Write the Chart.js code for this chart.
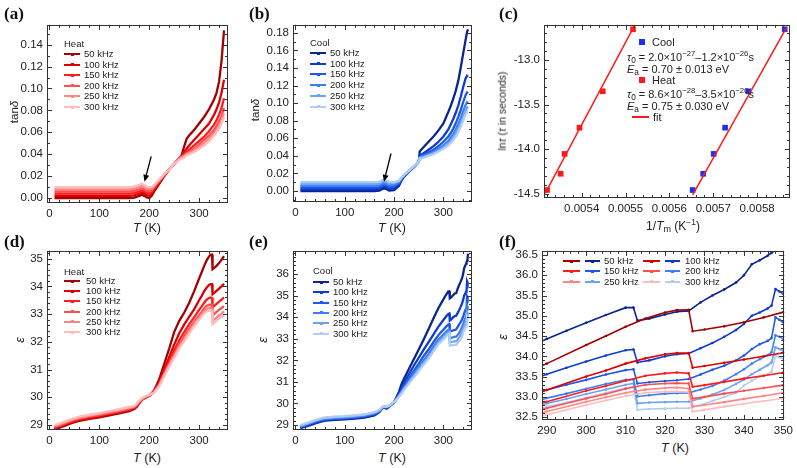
<!DOCTYPE html>
<html>
<head>
<meta charset="utf-8">
<script src="https://cdn.jsdelivr.net/npm/chart.js@4.4.0/dist/chart.umd.min.js"></script>
<style>
body { margin: 0; background: #fff; }
#fig { position: relative; width: 797px; height: 468px; overflow: hidden; font-family: "Liberation Sans", Arial, sans-serif; color: #222; }
#fig canvas { position: absolute; }
.t { position: absolute; white-space: nowrap; line-height: 1; }
.lab { font-family: "Liberation Serif", "DejaVu Serif", serif; font-weight: bold; color: #111; }
sup { font-size: 70%; vertical-align: 0.55em; line-height: 0; }
sub { font-size: 75%; vertical-align: -0.25em; line-height: 0; }
</style>
</head>
<body>
<div id="fig"></div>
<script>
// ---- tick labels ----
const tempTicks = [0, 100, 200, 300];
const tanHeatTicks = [0.00, 0.02, 0.04, 0.06, 0.08, 0.10, 0.12, 0.14];
const tanCoolTicks = [0.00, 0.02, 0.04, 0.06, 0.08, 0.10, 0.12, 0.14, 0.16, 0.18];
const invTTicks = [0.0054, 0.0055, 0.0056, 0.0057, 0.0058];
const lnTauTicks = [-14.5, -14.0, -13.5, -13.0];
const epsHeatTicks = [29, 30, 31, 32, 33, 34, 35];
const epsCoolTicks = [29, 30, 31, 32, 33, 34, 35, 36];
const zoomTTicks = [290, 300, 310, 320, 330, 340, 350];
const zoomEpsTicks = [32.5, 33.0, 33.5, 34.0, 34.5, 35.0, 35.5, 36.0, 36.5];

const freqs = ['50 kHz', '100 kHz', '150 kHz', '200 kHz', '250 kHz', '300 kHz'];
const heatColors = ['#a30000', '#dc0000', '#ff1c1c', '#ff4f4f', '#ff8585', '#ffbcbc'];
const coolColors = ['#0a2590', '#0d3bd0', '#1f57ea', '#3a80f2', '#6ca3f3', '#b2ccf6'];

// ---- (a) tan delta, heating ----
const tanHeatT = [10,20,40,60,80,100,120,140,160, 170,180,185,190,195, 200,205,210,220,230,240,250,260, 265,270,275,280,290,300,310,320,330,335,340,345,350];
const tanHeat50  = [0,0,0,0,0,0,0,0,0, 0.0005,0.002,0.003,0.002,0.0005, 0,0.002,0.006,0.013,0.020,0.026,0.031,0.036, 0.039,0.047,0.054,0.057,0.062,0.068,0.074,0.081,0.090,0.096,0.106,0.125,0.153];
const tanHeat100 = [0.002,0.002,0.002,0.002,0.002,0.002,0.002,0.002,0.002, 0.0025,0.004,0.005,0.004,0.0025, 0.002,0.004,0.008,0.014,0.020,0.026,0.031,0.036, 0.039,0.042,0.045,0.048,0.053,0.058,0.063,0.068,0.076,0.081,0.087,0.096,0.108];
const tanHeat150 = [0.004,0.004,0.004,0.004,0.004,0.004,0.004,0.004,0.004, 0.0045,0.006,0.007,0.006,0.0045, 0.004,0.006,0.009,0.015,0.021,0.026,0.031,0.036, 0.038,0.040,0.042,0.044,0.048,0.052,0.056,0.061,0.067,0.071,0.076,0.082,0.091];
const tanHeat200 = [0.006,0.006,0.006,0.006,0.006,0.006,0.006,0.006,0.006, 0.0065,0.008,0.009,0.008,0.0065, 0.006,0.007,0.010,0.016,0.021,0.026,0.031,0.036, 0.038,0.039,0.041,0.042,0.045,0.049,0.053,0.057,0.062,0.066,0.070,0.075,0.082];
const tanHeat250 = [0.008,0.008,0.008,0.008,0.008,0.008,0.008,0.008,0.008, 0.0085,0.010,0.011,0.010,0.0085, 0.008,0.009,0.011,0.016,0.021,0.026,0.031,0.035, 0.037,0.038,0.040,0.041,0.044,0.047,0.050,0.054,0.059,0.062,0.066,0.071,0.077];
const tanHeat300 = [0.010,0.010,0.010,0.010,0.010,0.010,0.010,0.010,0.010, 0.0105,0.012,0.013,0.012,0.0105, 0.010,0.010,0.012,0.017,0.022,0.026,0.031,0.035, 0.036,0.037,0.039,0.040,0.042,0.045,0.048,0.052,0.057,0.060,0.063,0.068,0.074];

// ---- (b) tan delta, cooling ----
const tanCoolT = [10,20,40,60,80,100,120,140,160, 170,175,180,185,190, 200,210,215,220,230,240,250, 252,255,260,270,280,290,300,310, 315,320,325,330,335,340,345,348,350];
const tanCool50  = [0,0,0,0,0,0,0,0,0, 0.0005,0.002,0.003,0.002,0.0005, 0.001,0.006,0.012,0.016,0.022,0.027,0.033, 0.045,0.047,0.050,0.056,0.062,0.069,0.077,0.090, 0.097,0.105,0.114,0.125,0.140,0.156,0.172,0.181,0.184];
const tanCool100 = [0.002,0.002,0.002,0.002,0.002,0.002,0.002,0.002,0.002, 0.0025,0.004,0.005,0.004,0.0025, 0.003,0.008,0.013,0.017,0.022,0.027,0.033, 0.040,0.041,0.043,0.047,0.051,0.056,0.062,0.070, 0.076,0.082,0.089,0.097,0.107,0.118,0.128,0.131,0.130];
const tanCool150 = [0.004,0.004,0.004,0.004,0.004,0.004,0.004,0.004,0.004, 0.0045,0.006,0.007,0.006,0.0045, 0.005,0.009,0.014,0.017,0.022,0.027,0.033, 0.039,0.040,0.041,0.044,0.047,0.051,0.056,0.062, 0.066,0.071,0.077,0.084,0.092,0.101,0.109,0.112,0.111];
const tanCool200 = [0.006,0.006,0.006,0.006,0.006,0.006,0.006,0.006,0.006, 0.0065,0.008,0.009,0.008,0.0065, 0.007,0.010,0.014,0.018,0.023,0.028,0.033, 0.038,0.039,0.040,0.042,0.045,0.048,0.052,0.057, 0.061,0.065,0.070,0.076,0.083,0.091,0.098,0.101,0.100];
const tanCool250 = [0.008,0.008,0.008,0.008,0.008,0.008,0.008,0.008,0.008, 0.0085,0.010,0.011,0.010,0.0085, 0.009,0.011,0.015,0.018,0.023,0.028,0.033, 0.038,0.038,0.039,0.041,0.043,0.046,0.050,0.054, 0.057,0.061,0.066,0.071,0.077,0.084,0.091,0.095,0.094];
const tanCool300 = [0.010,0.010,0.010,0.010,0.010,0.010,0.010,0.010,0.010, 0.0105,0.012,0.013,0.012,0.0105, 0.010,0.012,0.015,0.018,0.023,0.028,0.033, 0.037,0.037,0.038,0.040,0.042,0.045,0.048,0.052, 0.055,0.058,0.062,0.067,0.073,0.080,0.087,0.090,0.090];

// ---- (c) Arrhenius plot ----
const coolInvT  = [0.005653, 0.005677, 0.005701, 0.005727, 0.005780, 0.005863];
const coolLnTau = [-14.456, -14.274, -14.052, -13.759, -13.352, -12.659];
const heatInvT  = [0.005321, 0.005352, 0.005361, 0.005395, 0.005448, 0.005517];
const heatLnTau = [-14.456, -14.274, -14.052, -13.759, -13.352, -12.659];
const coolFitInvT  = [0.005653, 0.005867];
const coolFitLnTau = [-14.51, -12.64];
const heatFitInvT  = [0.005317, 0.005520];
const heatFitLnTau = [-14.49, -12.62];

// ---- (d)/(f) permittivity, heating ----
const epsHeatT = [10,20,30,40,50,60,80,100,120,140,160, 170,175,180,185,190, 200,210,220,230,240,250,260,270,280,290, 300,305,310,315,320,323,326,327,330,335,340,345,350];
const epsHeat50  = [28.85,28.90,28.97,29.04,29.10,29.15,29.22,29.28,29.35,29.42,29.50, 29.58,29.65,29.78,29.90,29.96, 30.05,30.25,30.65,31.20,31.75,32.35,32.75,33.05,33.40,33.82, 34.28,34.50,34.73,34.93,35.08,35.14,35.15,34.62,34.66,34.74,34.84,34.96,35.09];
const epsHeat100 = [28.88,28.93,29.00,29.07,29.13,29.18,29.25,29.31,29.38,29.45,29.53, 29.61,29.68,29.80,29.91,29.97, 30.05,30.22,30.55,31.00,31.45,31.90,32.30,32.62,32.90,33.17, 33.50,33.65,33.82,33.95,34.05,34.08,34.08,33.72,33.76,33.84,33.92,34.00,34.09];
const epsHeat150 = [28.91,28.96,29.03,29.10,29.16,29.21,29.28,29.34,29.41,29.48,29.56, 29.63,29.70,29.82,29.92,29.98, 30.06,30.20,30.50,30.90,31.30,31.70,32.05,32.35,32.63,32.88, 33.15,33.27,33.40,33.52,33.58,33.60,33.58,33.25,33.29,33.37,33.45,33.52,33.60];
const epsHeat200 = [28.94,28.99,29.06,29.13,29.19,29.24,29.31,29.37,29.44,29.51,29.59, 29.65,29.72,29.84,29.93,29.99, 30.07,30.19,30.45,30.85,31.20,31.55,31.90,32.20,32.47,32.72, 32.96,33.07,33.20,33.30,33.33,33.34,33.33,32.96,33.00,33.08,33.15,33.22,33.29];
const epsHeat250 = [28.97,29.02,29.09,29.16,29.22,29.27,29.34,29.40,29.47,29.54,29.62, 29.67,29.74,29.86,29.94,30.00, 30.08,30.18,30.42,30.80,31.15,31.48,31.82,32.10,32.38,32.64, 32.88,32.99,33.10,33.18,33.22,33.23,33.20,32.76,32.80,32.87,32.95,33.02,33.10];
const epsHeat300 = [29.00,29.05,29.12,29.19,29.25,29.30,29.37,29.43,29.50,29.57,29.65, 29.69,29.76,29.88,29.95,30.01, 30.09,30.17,30.40,30.75,31.10,31.42,31.75,32.03,32.30,32.56, 32.80,32.91,33.02,33.10,33.13,33.13,33.12,32.64,32.68,32.76,32.83,32.90,32.96];

// ---- (e)/(f) permittivity, cooling ----
const epsCoolT = [10,20,30,40,50,60,80,100,120,140,160, 170,178,185,190, 200,205,210,215,220, 230,240,250,260,270,280,290, 295,300,305,310,312,313,316,320,323,326, 329,332,335,338,340,342,344,346,347,348,349,350];
const epsCool50  = [28.85,28.92,29.00,29.08,29.15,29.20,29.24,29.26,29.30,29.35,29.45, 29.60,29.82,29.76,29.85, 30.05,30.30,30.55,30.90,31.15, 31.60,32.05,32.50,32.97,33.45,33.95,34.43, 34.63,34.83,35.02,35.20,35.20,34.88,34.93,35.03,35.10,35.12, 35.33,35.50,35.65,35.82,36.00,36.27,36.37,36.48,36.55,36.62,36.75,36.95];
const epsCool100 = [28.88,28.95,29.03,29.11,29.18,29.23,29.27,29.29,29.33,29.38,29.48, 29.62,29.83,29.78,29.86, 30.05,30.25,30.45,30.70,30.95, 31.35,31.75,32.12,32.50,32.85,33.20,33.56, 33.72,33.87,34.02,34.15,34.17,33.85,33.90,34.00,34.05,34.07, 34.20,34.33,34.48,34.65,34.80,35.00,35.08,35.18,35.25,35.66,35.60,35.54];
const epsCool150 = [28.91,28.98,29.06,29.14,29.21,29.26,29.30,29.32,29.36,29.41,29.51, 29.64,29.84,29.80,29.87, 30.05,30.22,30.40,30.60,30.80, 31.15,31.50,31.85,32.20,32.50,32.85,33.17, 33.30,33.42,33.55,33.66,33.68,33.33,33.36,33.39,33.41,33.44, 33.55,33.67,33.77,33.90,34.02,34.18,34.30,34.38,34.45,34.96,34.90,34.84];
const epsCool200 = [28.94,29.01,29.09,29.17,29.24,29.29,29.33,29.35,29.39,29.44,29.54, 29.66,29.85,29.82,29.88, 30.05,30.20,30.37,30.55,30.72, 31.05,31.38,31.70,32.00,32.30,32.65,32.97, 33.08,33.20,33.32,33.42,33.43,33.01,33.04,33.08,33.09,33.10, 33.18,33.27,33.40,33.56,33.68,33.82,33.93,34.03,34.10,34.52,34.48,34.43];
const epsCool250 = [28.97,29.04,29.12,29.20,29.27,29.32,29.36,29.38,29.42,29.47,29.57, 29.68,29.86,29.84,29.89, 30.06,30.19,30.34,30.50,30.67, 30.98,31.28,31.58,31.88,32.17,32.50,32.84, 32.95,33.07,33.18,33.30,33.33,32.84,32.86,32.87,32.88,32.88, 32.96,33.06,33.17,33.32,33.43,33.56,33.67,33.78,33.85,34.22,34.18,34.14];
const epsCool300 = [29.00,29.07,29.15,29.23,29.30,29.35,29.39,29.41,29.45,29.50,29.60, 29.70,29.87,29.86,29.90, 30.07,30.18,30.31,30.45,30.62, 30.92,31.20,31.50,31.80,32.08,32.42,32.76, 32.86,32.98,33.10,33.22,33.25,32.68,32.70,32.71,32.72,32.72, 32.80,32.90,33.00,33.10,33.28,33.40,33.50,33.56,33.62,34.02,33.98,33.94];

// arrows in (a) and (b), in data units
const arrowHeat = [[204, 0.038], [190.5, 0.0148]];
const arrowCool = [[193.7, 0.0427], [179.5, 0.0105]];

Chart.defaults.font.family = '"Liberation Sans", Arial, sans-serif';
Chart.defaults.font.size = 11.5;
Chart.defaults.color = '#222';

const fig = document.getElementById('fig');

function minorValues(min, max, step) {
    const out = [];
    for (let k = Math.ceil(min / step - 1e-9); k * step <= max + step * 1e-6; k++) out.push(k * step);
    return out;
}

// frame with inward ticks on all four sides, plus optional arrow
const framePlugin = {
    id: 'frame',
    afterDatasetsDraw(chart, args, o) {
        const { ctx, chartArea: a, scales: { x, y } } = chart;
        ctx.save();
        ctx.strokeStyle = '#333';
        ctx.lineWidth = 1;
        ctx.beginPath();
        const tx = (v, len) => {
            const p = Math.round(x.getPixelForValue(v)) + 0.5;
            ctx.moveTo(p, a.bottom); ctx.lineTo(p, a.bottom - len);
            ctx.moveTo(p, a.top); ctx.lineTo(p, a.top + len);
        };
        const ty = (v, len) => {
            const p = Math.round(y.getPixelForValue(v)) + 0.5;
            ctx.moveTo(a.left, p); ctx.lineTo(a.left + len, p);
            ctx.moveTo(a.right, p); ctx.lineTo(a.right - len, p);
        };
        minorValues(x.min, x.max, o.xMinor).forEach(v => tx(v, 3));
        minorValues(y.min, y.max, o.yMinor).forEach(v => ty(v, 3));
        x.ticks.forEach(t => tx(t.value, 5));
        y.ticks.forEach(t => ty(t.value, 5));
        ctx.stroke();
        ctx.strokeRect(Math.round(a.left) + 0.5, Math.round(a.top) + 0.5,
            Math.round(a.right - a.left) - 1, Math.round(a.bottom - a.top) - 1);

        if (o.arrow) {
            const [p0, p1] = o.arrow.map(([vx, vy]) => [x.getPixelForValue(vx), y.getPixelForValue(vy)]);
            const ang = Math.atan2(p1[1] - p0[1], p1[0] - p0[0]);
            const hl = 7, hw = 3;
            const bx = p1[0] - hl * Math.cos(ang), by = p1[1] - hl * Math.sin(ang);
            ctx.strokeStyle = '#000';
            ctx.fillStyle = '#000';
            ctx.lineWidth = 1.3;
            ctx.beginPath();
            ctx.moveTo(p0[0], p0[1]);
            ctx.lineTo(bx, by);
            ctx.stroke();
            ctx.beginPath();
            ctx.moveTo(p1[0], p1[1]);
            ctx.lineTo(bx + hw * Math.sin(ang), by - hw * Math.cos(ang));
            ctx.lineTo(bx - hw * Math.sin(ang), by + hw * Math.cos(ang));
            ctx.closePath();
            ctx.fill();
        }
        ctx.restore();
    }
};

function series(xs, ys, color, width, radius) {
    return {
        data: xs.map((v, i) => ({ x: v, y: ys[i] })),
        borderColor: color,
        backgroundColor: color,
        borderWidth: width,
        pointRadius: radius || 0,
        pointBorderWidth: 0,
        tension: 0,
        clip: 0
    };
}

function axis(cfg, fitFn) {
    return {
        type: 'linear',
        min: cfg.min,
        max: cfg.max,
        afterBuildTicks: s => { s.ticks = cfg.ticks.map(v => ({ value: v })); },
        afterFit: fitFn,
        ticks: { callback: v => cfg.fmt(v), autoSkip: false, maxRotation: 0, padding: 4 },
        grid: { display: false, drawTicks: false },
        border: { display: false }
    };
}

function panel(p) {
    const [cx, cy, cw, ch] = p.cv;
    const [l, t, r, b] = p.area;
    const c = document.createElement('canvas');
    c.width = cw; c.height = ch;
    c.style.left = cx + 'px'; c.style.top = cy + 'px';
    c.style.width = cw + 'px'; c.style.height = ch + 'px';
    fig.appendChild(c);
    return new Chart(c, {
        type: 'line',
        data: { datasets: p.datasets },
        options: {
            responsive: false,
            animation: false,
            events: [],
            layout: { padding: { top: t - cy, right: cx + cw - r, left: 0, bottom: 0 } },
            plugins: {
                legend: { display: false },
                tooltip: { enabled: false },
                frame: { xMinor: p.x.minor, yMinor: p.y.minor, arrow: p.arrow || null }
            },
            scales: {
                x: axis(p.x, s => { s.height = cy + ch - b; }),
                y: axis(p.y, s => { s.width = l - cx; })
            }
        },
        plugins: [framePlugin]
    });
}

function put(html, x, y, size, how, cls) {
    const d = document.createElement('div');
    d.className = 't' + (cls ? ' ' + cls : '');
    d.innerHTML = html;
    let tf = 'translate(0,-50%)';
    if (how === 'c') tf = 'translate(-50%,-50%)';
    if (how === 'v') tf = 'translate(-50%,-50%) rotate(-90deg)';
    d.style.left = x + 'px';
    d.style.top = y + 'px';
    d.style.fontSize = size + 'px';
    d.style.transform = tf;
    fig.appendChild(d);
}

function bar(x, y, w, h, color) {
    const d = document.createElement('div');
    d.style.cssText = `position:absolute;left:${x}px;top:${y}px;width:${w}px;height:${h}px;background-color:${color}`;
    fig.appendChild(d);
}

function swatch(x1, x2, y, color, w) {
    bar(x1, y - w / 2, x2 - x1, w, color);
    bar((x1 + x2) / 2 - 1.5, y - 1.5, 3, 3, color);
}

const tempFmt = v => String(v);

// (a)
const tanHeatSets = [tanHeat50, tanHeat100, tanHeat150, tanHeat200, tanHeat250, tanHeat300];
panel({
    cv: [0, 14, 240, 206], area: [47, 24, 228, 203],
    x: { min: -5, max: 358, ticks: tempTicks, fmt: tempFmt, minor: 20 },
    y: { min: -0.0045, max: 0.158, ticks: tanHeatTicks, fmt: v => v.toFixed(2), minor: 0.01 },
    datasets: tanHeatSets.map((ys, i) => series(tanHeatT, ys, heatColors[i], 2.3)).reverse(),
    arrow: arrowHeat
});

// (b)
const tanCoolSets = [tanCool50, tanCool100, tanCool150, tanCool200, tanCool250, tanCool300];
panel({
    cv: [245, 14, 240, 206], area: [293, 24, 472, 202],
    x: { min: -5, max: 358, ticks: tempTicks, fmt: tempFmt, minor: 20 },
    y: { min: -0.0125, max: 0.189, ticks: tanCoolTicks, fmt: v => v.toFixed(2), minor: 0.01 },
    datasets: tanCoolSets.map((ys, i) => series(tanCoolT, ys, coolColors[i], 2.3)).reverse(),
    arrow: arrowCool
});

// (c)
const squares = (xs, ys, color) => Object.assign(series(xs, ys, color, 0, 4), { showLine: false, pointStyle: 'rect' });
panel({
    cv: [495, 14, 302, 206], area: [544, 24, 790, 198],
    x: { min: 0.005314, max: 0.005875, ticks: invTTicks, fmt: v => v.toFixed(4), minor: 0.00002 },
    y: { min: -14.545, max: -12.61, ticks: lnTauTicks, fmt: v => v.toFixed(1), minor: 0.1 },
    datasets: [
        series(heatFitInvT, heatFitLnTau, '#ff1a1a', 1.5),
        series(coolFitInvT, coolFitLnTau, '#ff1a1a', 1.5),
        squares(heatInvT, heatLnTau, '#ff1a1a'),
        squares(coolInvT, coolLnTau, '#1f30f5')
    ]
});

// (d)
const epsHeatSets = [epsHeat50, epsHeat100, epsHeat150, epsHeat200, epsHeat250, epsHeat300];
panel({
    cv: [0, 240, 240, 206], area: [47, 250, 228, 430],
    x: { min: -5, max: 358, ticks: tempTicks, fmt: tempFmt, minor: 20 },
    y: { min: 28.82, max: 35.28, ticks: epsHeatTicks, fmt: tempFmt, minor: 0.2 },
    datasets: epsHeatSets.map((ys, i) => series(epsHeatT, ys, heatColors[i], 2.3)).reverse()
});

// (e)
const epsCoolSets = [epsCool50, epsCool100, epsCool150, epsCool200, epsCool250, epsCool300];
panel({
    cv: [245, 240, 240, 206], area: [293, 251, 472, 430],
    x: { min: -5, max: 358, ticks: tempTicks, fmt: tempFmt, minor: 20 },
    y: { min: 28.77, max: 37.07, ticks: epsCoolTicks, fmt: tempFmt, minor: 0.2 },
    datasets: epsCoolSets.map((ys, i) => series(epsCoolT, ys, coolColors[i], 2.3)).reverse()
});

// (f) zoom of (d) and (e) above 290 K
panel({
    cv: [495, 240, 302, 200], area: [542, 250, 786, 420],
    x: { min: 288.8, max: 350.2, ticks: zoomTTicks, fmt: tempFmt, minor: 2 },
    y: { min: 32.43, max: 36.6, ticks: zoomEpsTicks, fmt: v => v.toFixed(1), minor: 0.1 },
    datasets: [
        ...epsHeatSets.map((ys, i) => series(epsHeatT, ys, heatColors[i], 1.6, 1.3)),
        ...epsCoolSets.map((ys, i) => series(epsCoolT, ys, coolColors[i], 1.6, 1.3))
    ]
});

// panel letters
put('(a)', 4, 13, 17, 'l', 'lab');
put('(b)', 249, 13, 17, 'l', 'lab');
put('(c)', 499, 13, 17, 'l', 'lab');
put('(d)', 4, 241, 17, 'l', 'lab');
put('(e)', 249, 241, 17, 'l', 'lab');
put('(f)', 499, 241, 17, 'l', 'lab');

// axis titles
put('tan<i>δ</i>', 15, 112, 11.5, 'v');
put('tan<i>δ</i>', 256, 110, 11.5, 'v');
put('ln<i>τ</i> (<i>τ</i> in seconds)', 502, 111, 10.5, 'v');
put('<i>ε</i>', 20, 340, 12.5, 'v');
put('<i>ε</i>', 263, 340, 12.5, 'v');
put('<i>ε</i>', 503, 337, 12.5, 'v');
put('<i>T</i> (K)', 147, 228, 12.5, 'c');
put('<i>T</i> (K)', 392, 228, 12.5, 'c');
put('1/<i>T</i><sub>m</sub> (K<sup>−1</sup>)', 673, 226, 12, 'c');
put('<i>T</i> (K)', 147, 458, 12.5, 'c');
put('<i>T</i> (K)', 392, 458, 12.5, 'c');
put('<i>T</i> (K)', 675, 448, 12.5, 'c');

// legends (a), (b), (d), (e)
function freqLegend(title, x, yTitle, y0, dy, colors, xText) {
    put(title, x, yTitle, 9.5, 'l');
    freqs.forEach((f, i) => {
        const y = y0 + dy * i;
        swatch(x, x + 16, y, colors[i], 2);
        put(f, xText, y, 9.5, 'l');
    });
}
freqLegend('Heat', 64, 44, 54, 10.6, heatColors, 84);
freqLegend('Cool', 310, 43, 53, 10.7, coolColors, 330);
freqLegend('Heat', 64, 272, 281, 10.2, heatColors, 86);
freqLegend('Cool', 313, 271, 282, 10.3, coolColors, 333);

// legend (f)
[0, 1, 2].forEach(r => {
    const y = 261 + 10.4 * r;
    [0, 1].forEach(col => {
        const k = r * 2 + col;
        const x0 = col === 0 ? 563 : 643;
        swatch(x0, x0 + 17, y, heatColors[k], 2);
        swatch(x0 + 22, x0 + 37, y, coolColors[k], 2);
        put(freqs[k], x0 + (col === 0 ? 41 : 42), y, 9.5, 'l');
    });
});

// legend (c)
bar(639.2, 39.2, 5.6, 5.6, '#1f30f5');
put('Cool', 652, 42, 11, 'l');
put('<i>τ</i><sub>0</sub> = 2.0×10<sup>−27</sup>–1.2×10<sup>−26</sup>s', 627, 57, 11, 'l');
put('<i>E</i><sub>a</sub> = 0.70 ± 0.013 eV', 627, 69, 11, 'l');
bar(639.2, 77.2, 5.6, 5.6, '#ff1a1a');
put('Heat', 652, 80, 11, 'l');
put('<i>τ</i><sub>0</sub> = 8.6×10<sup>−28</sup>–3.5×10<sup>−26</sup>s', 627, 94, 11, 'l');
put('<i>E</i><sub>a</sub> = 0.75 ± 0.030 eV', 627, 106, 11, 'l');
bar(632, 116, 17, 2, '#ff1a1a');
put('fit', 653, 117, 11, 'l');
</script>
</body>
</html>
